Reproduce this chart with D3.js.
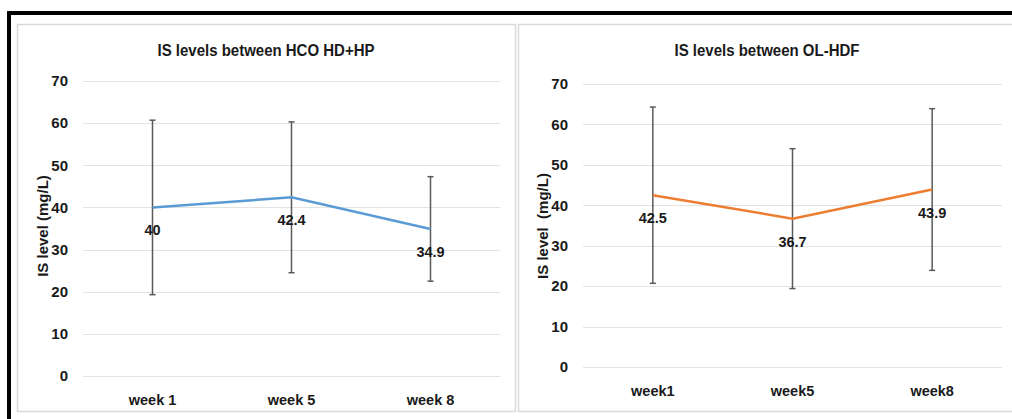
<!DOCTYPE html>
<html>
<head>
<meta charset="utf-8">
<script src="https://cdn.jsdelivr.net/npm/d3@7"></script>
<style>
  body { margin: 0; background: white; }
  text { font-family: 'Liberation Sans', Arial, sans-serif; font-weight: bold; fill: #1a1a1a; }
</style>
</head>
<body>
<div id="chart"></div>
<script>
// data
const weeksA = ['week 1', 'week 5', 'week 8'];
const meansA = [40, 42.4, 34.9];
const sdA = [20.7, 17.9, 12.4];

const weeksB = ['week1', 'week5', 'week8'];
const meansB = [42.5, 36.7, 43.9];
const sdB = [21.8, 17.3, 20.0];

const yTicks = [0, 10, 20, 30, 40, 50, 60, 70];

let width = 1012,
    height = 419;

let svg = d3.select('#chart')
            .append('svg')
            .attr('width', width)
            .attr('height', height)
            .style('background', 'white');

// thick black frame on top and left
svg.append('path')
    .attr('d', `M9,${height} L9,13 L${width},13`)
    .attr('fill', 'none')
    .attr('stroke', 'black')
    .attr('stroke-width', 4);

// draws one chart panel
function drawPanel(p) {
    let g = svg.append('g');

    // panel border
    g.append('rect')
        .attr('x', p.box[0] + 0.5)
        .attr('y', p.box[1] + 0.5)
        .attr('width', p.box[2] - p.box[0])
        .attr('height', p.box[3] - p.box[1])
        .attr('fill', 'white')
        .attr('stroke', '#d9d9d9')
        .attr('stroke-width', 1.5);

    let xScale = d3.scaleBand()
                .domain(p.weeks)
                .range([p.left, p.right]);

    let yScale = d3.scaleLinear()
                .domain([0, 70])
                .range([p.bottom, p.top]);

    // gridlines
    g.selectAll('line.grid')
        .data(yTicks)
        .enter()
        .append('line')
        .attr('class', 'grid')
        .attr('x1', p.left)
        .attr('x2', p.right)
        .attr('y1', d => Math.round(yScale(d)) + 0.5)
        .attr('y2', d => Math.round(yScale(d)) + 0.5)
        .attr('stroke', '#e3e3e3')
        .attr('stroke-width', 1.2);

    // y axis tick labels
    let yAxis = g.append('g')
                .attr('transform', `translate(${p.left - 15}, 0)`)
                .call(d3.axisLeft(yScale).tickValues(yTicks).tickSize(0).tickPadding(0));
    yAxis.select('.domain').remove();
    yAxis.selectAll('text')
        .attr('font-size', 15)
        .attr('font-family', null)
        .attr('fill', null);

    // x axis labels
    let xAxis = g.append('g')
                .attr('transform', `translate(0, ${p.bottom + 19})`)
                .call(d3.axisBottom(xScale).tickSize(0).tickPadding(0));
    xAxis.select('.domain').remove();
    xAxis.selectAll('text')
        .attr('font-size', 14.5)
        .attr('font-family', null)
        .attr('fill', null);

    // title
    g.append('text')
        .attr('x', (p.box[0] + p.box[2]) / 2)
        .attr('y', 56)
        .attr('text-anchor', 'middle')
        .attr('font-size', 15)
        .attr('transform', `translate(0, -9) scale(1, 1.16)`)
        .text(p.title);

    // y axis title
    g.append('text')
        .attr('transform', `translate(${p.yTitleX}, 226) rotate(-90)`)
        .attr('text-anchor', 'middle')
        .attr('font-size', 15)
        .style('white-space', 'pre')
        .text(p.yTitle);

    let cx = d => xScale(d) + xScale.bandwidth() / 2;

    // error bars
    let bars = g.selectAll('g.err')
        .data(p.weeks)
        .enter()
        .append('g')
        .attr('class', 'err')
        .attr('stroke', '#5a5a5a')
        .attr('stroke-width', 1.5);

    bars.append('line')
        .attr('x1', cx).attr('x2', cx)
        .attr('y1', (d, i) => yScale(p.means[i] + p.sd[i]))
        .attr('y2', (d, i) => yScale(p.means[i] - p.sd[i]));
    bars.append('line')
        .attr('x1', d => cx(d) - 3).attr('x2', d => cx(d) + 3)
        .attr('y1', (d, i) => yScale(p.means[i] + p.sd[i]))
        .attr('y2', (d, i) => yScale(p.means[i] + p.sd[i]));
    bars.append('line')
        .attr('x1', d => cx(d) - 3).attr('x2', d => cx(d) + 3)
        .attr('y1', (d, i) => yScale(p.means[i] - p.sd[i]))
        .attr('y2', (d, i) => yScale(p.means[i] - p.sd[i]));

    // mean line
    let line = d3.line()
                .x((d, i) => cx(p.weeks[i]))
                .y(d => yScale(d));

    g.append('path')
        .datum(p.means)
        .attr('d', line)
        .attr('fill', 'none')
        .attr('stroke', p.color)
        .attr('stroke-width', 2.5);

    // value labels below the points
    g.selectAll('text.val')
        .data(p.means)
        .enter()
        .append('text')
        .attr('class', 'val')
        .attr('x', (d, i) => cx(p.weeks[i]))
        .attr('y', d => yScale(d) + 28)
        .attr('text-anchor', 'middle')
        .attr('font-size', 14.5)
        .text(d => d);
}

drawPanel({
    title: 'IS levels between HCO HD+HP',
    yTitle: 'IS level (mg/L)',
    weeks: weeksA, means: meansA, sd: sdA,
    color: '#5b9bd5',
    box: [17, 24, 515, 411],
    left: 83, right: 500, top: 81, bottom: 376,
    yTitleX: 48
});

drawPanel({
    title: 'IS levels between OL-HDF',
    yTitle: 'IS level  (mg/L)',
    weeks: weeksB, means: meansB, sd: sdB,
    color: '#ed7d31',
    box: [518, 24, 1016, 411],
    left: 583, right: 1002, top: 84, bottom: 367,
    yTitleX: 548
});
</script>
</body>
</html>
